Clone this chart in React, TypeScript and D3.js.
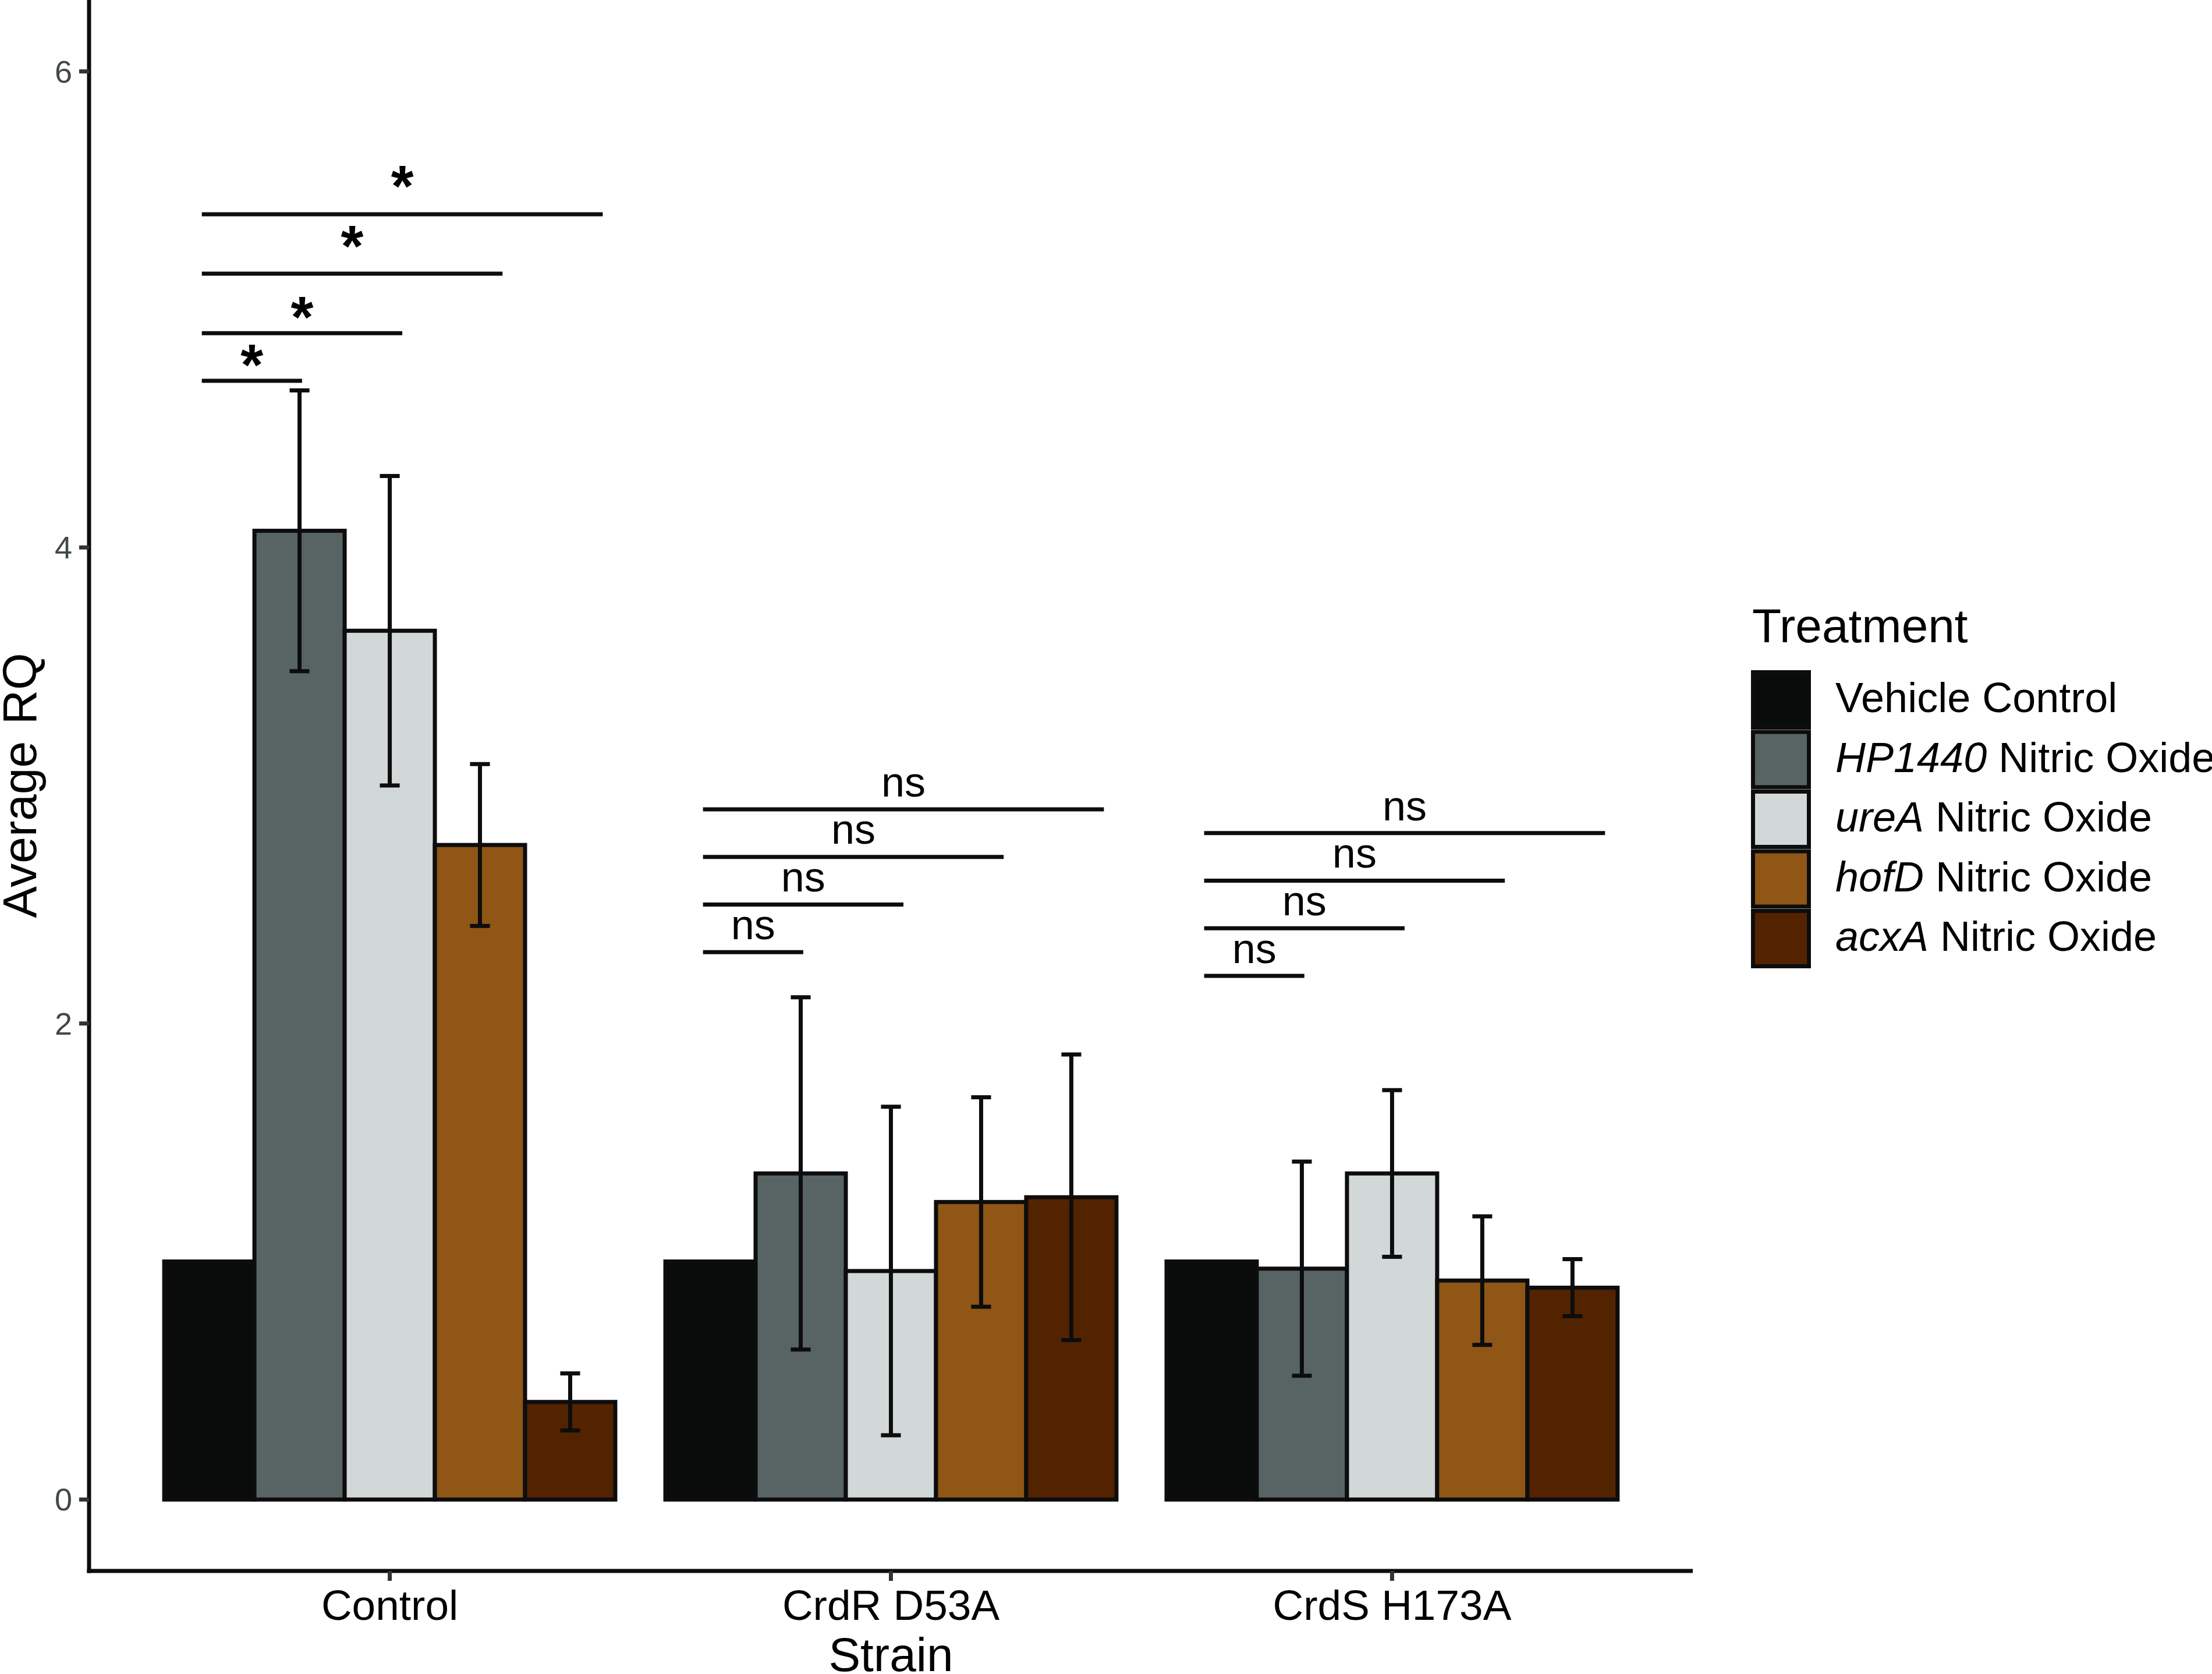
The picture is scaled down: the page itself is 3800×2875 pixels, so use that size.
import React from 'react';
import * as d3 from 'd3';

// data
const strains = ['Control', 'CrdR D53A', 'CrdS H173A'];
const treatments = ['Vehicle Control', 'HP1440 Nitric Oxide', 'ureA Nitric Oxide', 'hofD Nitric Oxide', 'acxA Nitric Oxide'];
const geneNames = ['', 'HP1440', 'ureA', 'hofD', 'acxA'];
const fills = ['#0a0c0b', '#586464', '#d1d8d7', '#8f5615', '#532300'];

const vehicleRQ = [1, 1, 1];
const hp1440RQ = [4.07, 1.37, 0.97];
const ureaRQ = [3.65, 0.96, 1.37];
const hofdRQ = [2.75, 1.25, 0.92];
const acxaRQ = [0.41, 1.27, 0.89];

const vehicleSD = [null, null, null];
const hp1440SD = [0.59, 0.74, 0.45];
const ureaSD = [0.65, 0.69, 0.35];
const hofdSD = [0.34, 0.44, 0.27];
const acxaSD = [0.12, 0.6, 0.12];

const yTicks = [0, 2, 4, 6];

// significance brackets (x in strain units, relative to group centre)
const bracketStrain = [0, 0, 0, 0, 1, 1, 1, 1, 2, 2, 2, 2];
const bracketStart = [-0.375, -0.375, -0.375, -0.375, -0.375, -0.375, -0.375, -0.375, -0.375, -0.375, -0.375, -0.375];
const bracketEnd = [-0.175, 0.025, 0.225, 0.425, -0.175, 0.025, 0.225, 0.425, -0.175, 0.025, 0.225, 0.425];
const bracketY = [4.7, 4.9, 5.15, 5.4, 2.3, 2.5, 2.7, 2.9, 2.2, 2.4, 2.6, 2.8];
const bracketLabelY = [4.82, 5.02, 5.32, 5.57, 2.4, 2.6, 2.8, 3.0, 2.3, 2.5, 2.7, 2.9];
const bracketLabel = ['*', '*', '*', '*', 'ns', 'ns', 'ns', 'ns', 'ns', 'ns', 'ns', 'ns'];

const W = 3800;
const H = 2875;
const margin = { left: 153, right: 892, top: 0, bottom: 177 };
const font = '"Liberation Sans", Arial, Helvetica, sans-serif';

export default function App() {
  const means = [vehicleRQ, hp1440RQ, ureaRQ, hofdRQ, acxaRQ];
  const sds = [vehicleSD, hp1440SD, ureaSD, hofdSD, acxaSD];

  const x = d3.scalePoint<string>()
    .domain(strains)
    .range([margin.left, W - margin.right])
    .padding(0.6);
  const step = x.step();

  const dodge = d3.scaleBand<string>()
    .domain(treatments)
    .range([-0.45 * step, 0.45 * step])
    .padding(0);
  const bw = dodge.bandwidth();

  const y = d3.scaleLinear()
    .domain([-0.3, 6.3])
    .range([H - margin.bottom, margin.top]);

  const axisY = H - margin.bottom;

  const bars: any[] = [];
  strains.forEach((s, si) => {
    treatments.forEach((t, ti) => {
      bars.push({ s, si, t, ti, v: means[ti][si], sd: sds[ti][si] });
    });
  });

  const capW = bw * 0.22;

  return (
    <div style={{ position: 'absolute', left: 0, top: 0 }}>
      <svg width={W} height={H} style={{ display: 'block', background: '#fff' }} fontFamily={font}>
        <rect x={0} y={0} width={W} height={H} fill="#fff" />

        {/* bars */}
        {bars.map((d, i) => {
          const x0 = (x(d.s) as number) + (dodge(d.t) as number);
          return (
            <rect key={'b' + i} x={x0} y={y(d.v)} width={bw} height={y(0) - y(d.v)}
              fill={fills[d.ti]} stroke="#0d0d0d" strokeWidth={7} />
          );
        })}

        {/* error bars */}
        {bars.filter(d => d.sd != null).map((d, i) => {
          const cx = (x(d.s) as number) + (dodge(d.t) as number) + bw / 2;
          const hi = y(d.v + d.sd);
          const lo = y(d.v - d.sd);
          return (
            <g key={'e' + i} stroke="#0d0d0d" strokeWidth={7}>
              <line x1={cx} x2={cx} y1={hi} y2={lo} />
              <line x1={cx - capW / 2} x2={cx + capW / 2} y1={hi} y2={hi} />
              <line x1={cx - capW / 2} x2={cx + capW / 2} y1={lo} y2={lo} />
            </g>
          );
        })}

        {/* significance brackets */}
        {bracketY.map((by, i) => {
          const c = x(strains[bracketStrain[i]]) as number;
          const x1 = c + bracketStart[i] * step;
          const x2 = c + bracketEnd[i] * step;
          const star = bracketLabel[i] === '*';
          const fs = star ? 100 : 72;
          const base = y(bracketLabelY[i]) + (star ? 0.56 * fs : 0.26 * fs);
          return (
            <g key={'s' + i}>
              <line x1={x1} x2={x2} y1={y(by)} y2={y(by)} stroke="#0d0d0d" strokeWidth={7} />
              <text x={(x1 + x2) / 2} y={base} textAnchor="middle" fontSize={fs}
                fontWeight={star ? 'bold' : 'normal'} fill="#000">{bracketLabel[i]}</text>
            </g>
          );
        })}

        {/* axes */}
        <line x1={margin.left} x2={margin.left} y1={0} y2={axisY + 3.5} stroke="#0d0d0d" strokeWidth={7} />
        <line x1={margin.left - 3.5} x2={W - margin.right} y1={axisY} y2={axisY} stroke="#0d0d0d" strokeWidth={7} />

        {yTicks.map(t => (
          <g key={'yt' + t}>
            <line x1={margin.left - 17} x2={margin.left} y1={y(t)} y2={y(t)} stroke="#333" strokeWidth={7} />
            <text x={124} y={y(t) + 19} textAnchor="end" fontSize={54} fill="#404848">{t}</text>
          </g>
        ))}

        {strains.map(s => (
          <g key={'xt' + s}>
            <line x1={x(s)} x2={x(s)} y1={axisY} y2={axisY + 17} stroke="#333" strokeWidth={7} />
            <text x={x(s)} y={2782} textAnchor="middle" fontSize={73} fill="#000">{s}</text>
          </g>
        ))}

        <text x={(margin.left + W - margin.right) / 2} y={2870} textAnchor="middle" fontSize={82} fill="#000">Strain</text>
        <text transform={`translate(62, ${axisY / 2}) rotate(-90)`} textAnchor="middle" fontSize={82} fill="#000"
          style={{ wordSpacing: '6px' }}>Average RQ</text>

        {/* legend */}
        <text x={3010} y={1103} fontSize={82} fill="#000">Treatment</text>
        {treatments.map((t, i) => {
          const top = 1151 + i * 102.5;
          return (
            <g key={'l' + i}>
              <rect x={3008 + 3.5} y={top + 3.5} width={96} height={95} fill={fills[i]} stroke="#0d0d0d" strokeWidth={7} />
              <text x={3153} y={top + 51 + 21} fontSize={72} fill="#000">
                {i === 0 ? t : (
                  <>
                    <tspan fontStyle="italic">{geneNames[i]}</tspan>
                    <tspan> Nitric Oxide</tspan>
                  </>
                )}
              </text>
            </g>
          );
        })}
      </svg>
    </div>
  );
}
